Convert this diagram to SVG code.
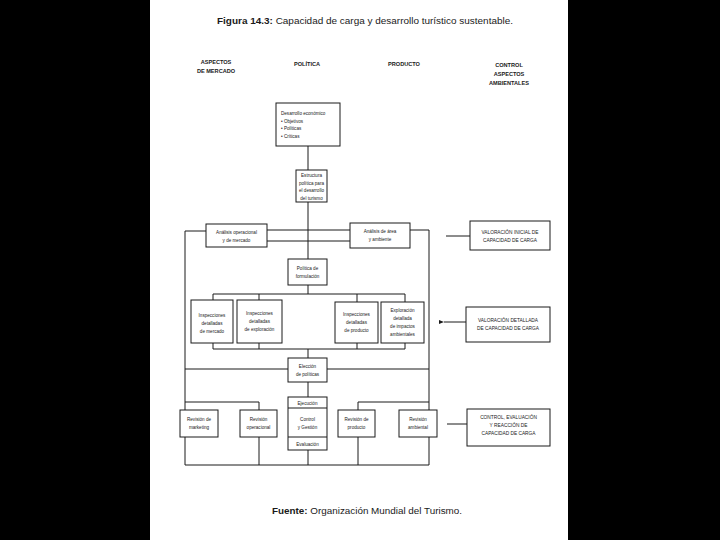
<svg xmlns="http://www.w3.org/2000/svg" width="720" height="540" viewBox="0 0 720 540">
<defs>
<style>
.t{font-family:"Liberation Sans",Arial,sans-serif;fill:#1a1a1a}
.b{font-size:4.6px;text-anchor:middle}
.bl{font-size:4.6px}
.h{font-size:5.6px;font-weight:bold;text-anchor:middle}
.r{font-size:4.8px;text-anchor:middle}
.box{fill:#fff;stroke:#1a1a1a;stroke-width:1}
.ln{fill:none;stroke:#1a1a1a;stroke-width:1}
</style>
<marker id="ah" markerWidth="6" markerHeight="6" refX="1" refY="3" orient="auto" markerUnits="userSpaceOnUse">
<path d="M6,1 L1,3 L6,5 Z" fill="#1a1a1a"/>
</marker>
</defs>
<rect x="0" y="0" width="720" height="540" fill="#000"/>
<rect x="150" y="0" width="418" height="540" fill="#fff"/>

<text class="t" x="217" y="24" font-size="8.6" textLength="296" lengthAdjust="spacingAndGlyphs"><tspan font-weight="bold">Figura 14.3:</tspan> Capacidad de carga y desarrollo turístico sustentable.</text>

<g id="headers">
<text class="t h" x="216" y="64">ASPECTOS</text>
<text class="t h" x="216" y="73">DE MERCADO</text>
<text class="t h" x="307" y="66">POLÍTICA</text>
<text class="t h" x="404" y="66">PRODUCTO</text>
<text class="t h" x="509" y="67">CONTROL</text>
<text class="t h" x="509" y="76">ASPECTOS</text>
<text class="t h" x="509" y="85">AMBIENTALES</text>
</g>

<g id="connectors">
<path class="ln" d="M308,146 V170 M308,202 V259 M267,230 H350 M267,241 H350"/>
<path class="ln" d="M206,231 H185 V465 H429 V230 H410"/>
<path class="ln" d="M308,285 V294 M213,294 H405 M213,294 V300 M259,294 V300 M357,294 V302 M405,294 V302"/>
<path class="ln" d="M213,343 V349 M259,343 V349 M357,343 V349 M405,343 V349 M213,349 H405 M308,349 V358"/>
<path class="ln" d="M185,369 H288 M327,369 H429 M308,382 V397"/>
<path class="ln" d="M185,402 H259 V410 M358,410 V402 H429"/>
<path class="ln" d="M259,437 V465 M358,437 V465 M308,450 V465"/>
<path class="ln" d="M446,236 H470 M447,424 H467"/>
<path class="ln" d="M466,322 H444" marker-end="url(#ah)"/>
</g>

<g id="n1">
<rect class="box" x="276" y="103" width="64" height="43"/>
<text class="t bl" x="281" y="115">Desarrollo económico</text>
<text class="t bl" x="281" y="122.5">• Objetivos</text>
<text class="t bl" x="281" y="130">• Políticas</text>
<text class="t bl" x="281" y="137.5">• Críticas</text>
</g>
<g id="n2">
<rect class="box" x="296" y="170" width="31" height="32"/>
<text class="t b" x="311.5" y="177">Estructura</text>
<text class="t b" x="311.5" y="184.5">política para</text>
<text class="t b" x="311.5" y="192">el desarrollo</text>
<text class="t b" x="311.5" y="199.5">del turismo</text>
</g>
<g id="n3">
<rect class="box" x="206" y="224" width="61" height="23"/>
<text class="t b" x="236.5" y="234">Análisis operacional</text>
<text class="t b" x="236.5" y="242">y de mercado</text>
</g>
<g id="n4">
<rect class="box" x="350" y="223" width="60" height="25"/>
<text class="t b" x="380" y="233">Análisis de área</text>
<text class="t b" x="380" y="241">y ambiente</text>
</g>
<g id="n5">
<rect class="box" x="288" y="259" width="39" height="26"/>
<text class="t b" x="307.5" y="270">Política de</text>
<text class="t b" x="307.5" y="278">formulación</text>
</g>
<g id="n6">
<rect class="box" x="191" y="300" width="42" height="43"/>
<text class="t b" x="212" y="317">Inspecciones</text>
<text class="t b" x="212" y="325">detalladas</text>
<text class="t b" x="212" y="333">de mercado</text>
</g>
<g id="n7">
<rect class="box" x="237" y="300" width="45" height="43"/>
<text class="t b" x="259.5" y="315">Inspecciones</text>
<text class="t b" x="259.5" y="323">detalladas</text>
<text class="t b" x="259.5" y="331">de exploración</text>
</g>
<g id="n8">
<rect class="box" x="335" y="302" width="43" height="41"/>
<text class="t b" x="356.5" y="316">Inspecciones</text>
<text class="t b" x="356.5" y="324">detalladas</text>
<text class="t b" x="356.5" y="332">de producto</text>
</g>
<g id="n9">
<rect class="box" x="381" y="302" width="43" height="41"/>
<text class="t b" x="402.5" y="312">Exploración</text>
<text class="t b" x="402.5" y="320">detallada</text>
<text class="t b" x="402.5" y="328">de impactos</text>
<text class="t b" x="402.5" y="336">ambientales</text>
</g>
<g id="n10">
<rect class="box" x="288" y="358" width="39" height="24"/>
<text class="t b" x="307.5" y="368">Elección</text>
<text class="t b" x="307.5" y="376">de políticas</text>
</g>
<g id="n11">
<rect class="box" x="288" y="397" width="39" height="53"/>
<line class="ln" x1="288" y1="408" x2="327" y2="408"/>
<line class="ln" x1="288" y1="437" x2="327" y2="437"/>
<text class="t b" x="307.5" y="404.5">Ejecución</text>
<text class="t b" x="307.5" y="421">Control</text>
<text class="t b" x="307.5" y="429">y Gestión</text>
<text class="t b" x="307.5" y="445.5">Evaluación</text>
</g>
<g id="n12">
<rect class="box" x="180" y="410" width="38" height="27"/>
<text class="t b" x="199" y="421">Revisión de</text>
<text class="t b" x="199" y="429">marketing</text>
</g>
<g id="n13">
<rect class="box" x="240" y="410" width="37" height="27"/>
<text class="t b" x="258.5" y="421">Revisión</text>
<text class="t b" x="258.5" y="429">operacional</text>
</g>
<g id="n14">
<rect class="box" x="338" y="410" width="37" height="27"/>
<text class="t b" x="356.5" y="421">Revisión de</text>
<text class="t b" x="356.5" y="429">producto</text>
</g>
<g id="n15">
<rect class="box" x="399" y="410" width="38" height="27"/>
<text class="t b" x="418" y="421">Revisión</text>
<text class="t b" x="418" y="429">ambiental</text>
</g>
<g id="n16">
<rect class="box" x="470" y="221" width="80" height="29"/>
<text class="t r" x="510" y="234">VALORACIÓN INICIAL DE</text>
<text class="t r" x="510" y="242">CAPACIDAD DE CARGA</text>
</g>
<g id="n17">
<rect class="box" x="466" y="307" width="84" height="35"/>
<text class="t r" x="508" y="322">VALORACIÓN DETALLADA</text>
<text class="t r" x="508" y="330">DE CAPACIDAD DE CARGA</text>
</g>
<g id="n18">
<rect class="box" x="467" y="409" width="83" height="37"/>
<text class="t r" x="508.5" y="419">CONTROL, EVALUACIÓN</text>
<text class="t r" x="508.5" y="427">Y REACCIÓN DE</text>
<text class="t r" x="508.5" y="435">CAPACIDAD DE CARGA</text>
</g>

<text class="t" x="272" y="514" font-size="8.4" textLength="190" lengthAdjust="spacingAndGlyphs"><tspan font-weight="bold">Fuente:</tspan> Organización Mundial del Turismo.</text>
</svg>
